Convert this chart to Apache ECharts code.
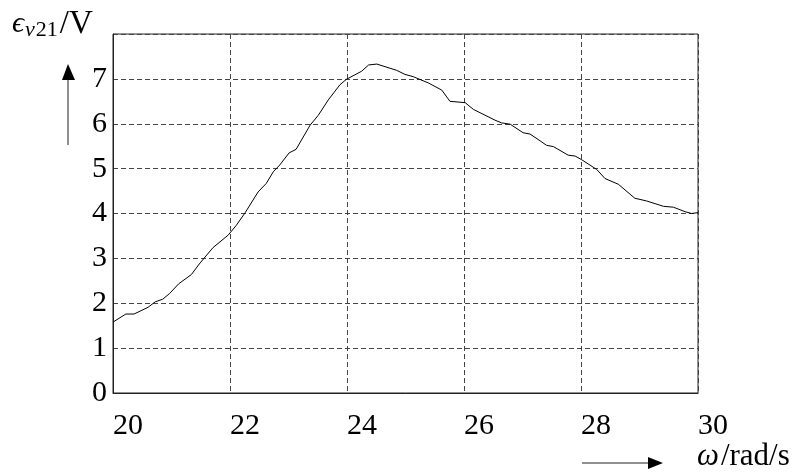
<!doctype html>
<html>

<head>
	<meta charset="utf-8">
	<title></title>
	<script type="text/javascript" src="https://cdn.jsdelivr.net/npm/echarts@6/dist/echarts.min.js"></script>
	<style>
		body { margin: 0; background: #fff; }
	</style>
</head>

<body>
	<div id="main" style="width: 807px;height:473px;"></div>
	<script type="text/javascript">
		// omega (rad/s) and induced emf (V)
		var omega = [20.00, 20.22, 20.36, 20.60, 20.72, 20.85, 20.97, 21.12, 21.34, 21.49,
			21.71, 21.97, 22.11, 22.26, 22.48, 22.62, 22.74, 22.85, 23.01, 23.13,
			23.37, 23.51, 23.68, 23.88, 23.99, 24.25, 24.37, 24.51, 24.85, 24.99,
			25.13, 25.39, 25.62, 25.76, 26.02, 26.16, 26.53, 26.64, 26.79, 27.01,
			27.13, 27.30, 27.41, 27.53, 27.78, 27.90, 28.01, 28.27, 28.41, 28.64,
			28.92, 29.12, 29.41, 29.58, 29.78, 29.89, 30.00];
		var emf = [1.58, 1.76, 1.76, 1.91, 2.03, 2.09, 2.22, 2.43, 2.64, 2.90,
			3.24, 3.52, 3.74, 4.02, 4.48, 4.67, 4.93, 5.08, 5.35, 5.43,
			5.97, 6.19, 6.53, 6.87, 6.99, 7.17, 7.31, 7.33, 7.19, 7.10,
			7.05, 6.91, 6.75, 6.50, 6.47, 6.32, 6.08, 6.02, 5.99, 5.80,
			5.77, 5.62, 5.52, 5.49, 5.30, 5.28, 5.20, 4.98, 4.78, 4.65,
			4.34, 4.28, 4.16, 4.14, 4.04, 4.00, 4.02];

		var serif = '"Liberation Serif", "DejaVu Serif", serif';
		var pts = omega.map((w, i) => [w, emf[i]]);

		var myChart = echarts.init(document.getElementById('main'));
		var dashed = { show: true, lineStyle: { color: '#444', type: [5, 3], width: 1 } };

		option = {
			animation: false,
			grid: {
				left: 113, top: 34, width: 585, height: 359,
				show: true, borderColor: '#222', borderWidth: 1
			},
			xAxis: {
				type: 'value', min: 20, max: 30, interval: 2,
				axisLine: { show: true, lineStyle: { color: '#222' } },
				axisTick: { show: false },
				splitLine: dashed,
				axisLabel: {
					color: '#000', fontFamily: serif, fontSize: 30,
					align: 'left', margin: 18
				}
			},
			yAxis: {
				type: 'value', min: 0, max: 8, interval: 1,
				axisLine: { show: true, lineStyle: { color: '#222' } },
				axisTick: { show: false },
				splitLine: dashed,
				axisLabel: {
					color: '#000', fontFamily: serif, fontSize: 30,
					margin: 6, padding: [0, 0, 14, 0], showMaxLabel: false
				}
			},
			series: [
				{
					type: 'line',
					data: pts,
					showSymbol: false,
					lineStyle: { color: '#000', width: 1 }
				}
			],
			graphic: [
				{
					type: 'text', left: 12, top: 8,
					style: {
						text: '{e|ϵ}{s|v}{n|21}{r|/V}',
						rich: {
							e: { fontFamily: serif, fontSize: 30, fontStyle: 'italic', fill: '#000' },
							s: { fontFamily: serif, fontSize: 22, fontStyle: 'italic', fill: '#000', padding: [12, 1, 0, 1] },
							n: { fontFamily: serif, fontSize: 22, fill: '#000', padding: [12, 2, 0, 0] },
							r: { fontFamily: serif, fontSize: 33, fill: '#000' }
						}
					}
				},
				{
					type: 'line', shape: { x1: 68, y1: 145, x2: 68, y2: 78 },
					style: { stroke: '#222', lineWidth: 1 }
				},
				{
					type: 'polygon', shape: { points: [[68, 64], [62, 80], [75, 80]] },
					style: { fill: '#000' }
				},
				{
					type: 'line', shape: { x1: 582, y1: 463, x2: 650, y2: 463 },
					style: { stroke: '#222', lineWidth: 1 }
				},
				{
					type: 'polygon', shape: { points: [[663, 463], [648, 457], [648, 469]] },
					style: { fill: '#000' }
				},
				{
					type: 'text', left: 697, top: 441,
					style: {
						text: '{w|ω}{r|/rad/s}',
						rich: {
							w: { fontFamily: serif, fontSize: 31, fontStyle: 'italic', fill: '#000' },
							r: { fontFamily: serif, fontSize: 31, fill: '#000', padding: [0, 0, 0, 2] }
						}
					}
				}
			]
		};

		myChart.setOption(option);
	</script>
</body>

</html>
